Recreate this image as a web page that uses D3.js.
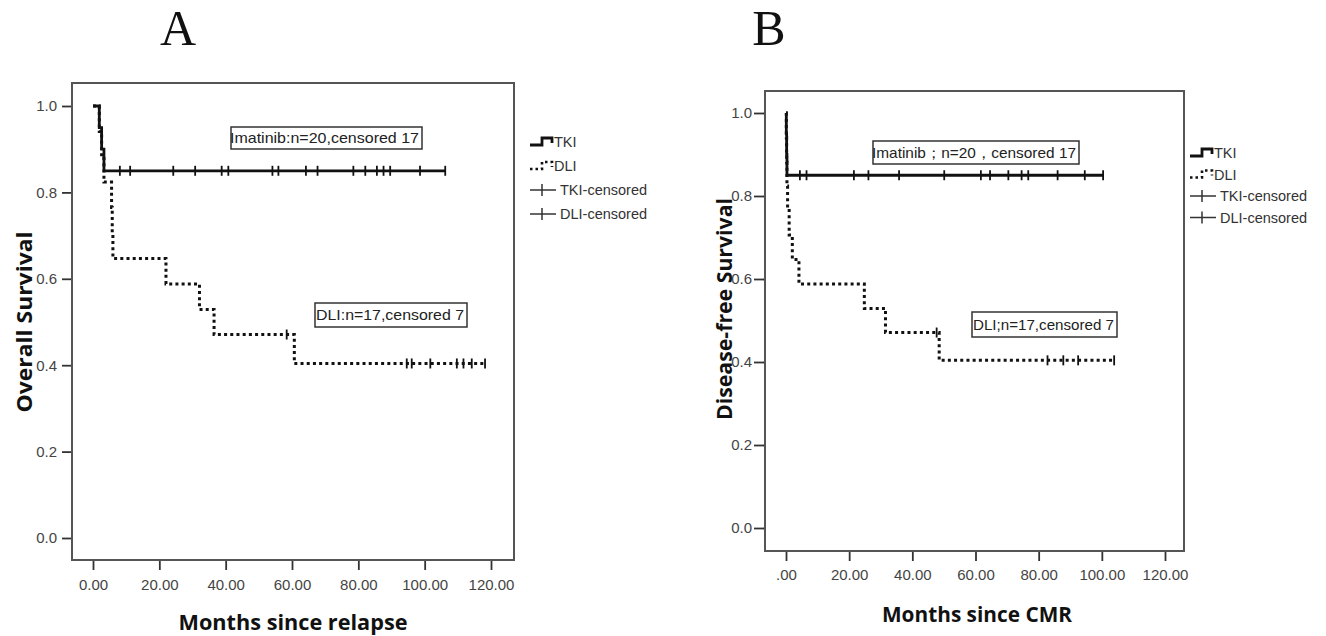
<!DOCTYPE html>
<html lang="en">
<head>
<meta charset="utf-8" />
<title>Kaplan-Meier survival, TKI vs DLI</title>
<script src="https://cdn.jsdelivr.net/npm/d3@7"></script>
<style>
  body { margin: 0; background: #fff; }
  text { font-family: "Liberation Sans", Arial, sans-serif; }
</style>
</head>
<body>
<svg width="1326" height="636"></svg>
<script>
// ---- data ----
// panel A: overall survival, months since relapse
var tkiA_time = [0, 1.9, 2.6, 3.3];
var tkiA_surv = [1.0, 0.95, 0.90, 0.85];
var tkiA_end = 106.2;
var tkiA_censor = [8.1, 11.2, 24.2, 30.8, 38.8, 40.8, 54.1, 55.9, 64.2, 67.7, 78.5, 82.1, 85.6, 87.6, 89.6, 98.6, 106.2];

var dliA_time = [0, 1.9, 2.6, 3.3, 5.6, 5.8, 6.0, 22.0, 32.1, 36.5, 60.7];
var dliA_surv = [1.0, 0.941, 0.882, 0.824, 0.765, 0.706, 0.647, 0.588, 0.529, 0.471, 0.404];
var dliA_end = 118.2;
var dliA_censor = [58.4, 94.6, 96.1, 101.7, 109.7, 111.7, 114.2, 118.2];

// panel B: disease-free survival, months since CMR
var tkiB_time = [0, 0.1, 0.2, 0.3];
var tkiB_surv = [1.0, 0.95, 0.90, 0.85];
var tkiB_end = 100.4;
var tkiB_censor = [4.4, 6.5, 21.5, 26.1, 35.8, 50.1, 61.7, 64.6, 70.4, 74.6, 76.7, 86.0, 94.6, 100.4];

var dliB_time = [0, 0.1, 0.2, 0.3, 0.5, 1.0, 2.0, 4.1, 24.8, 31.5, 48.5];
var dliB_surv = [1.0, 0.941, 0.882, 0.824, 0.765, 0.706, 0.647, 0.588, 0.529, 0.471, 0.404];
var dliB_end = 103.9;
var dliB_censor = [47.7, 82.8, 87.8, 92.5, 103.9];

var xTicks = [0, 20, 40, 60, 80, 100, 120];
var yTicks = [0, 0.2, 0.4, 0.6, 0.8, 1.0];
var legendLabels = ["TKI", "DLI", "TKI-censored", "DLI-censored"];

var svg = d3.select("svg");
svg.append("rect").attr("width", 1326).attr("height", 636).attr("fill", "#fff");

function stepPoints(times, surv, end) {
    var pts = times.map(function (t, i) { return [t, surv[i]]; });
    pts.push([end, surv[surv.length - 1]]);
    return pts;
}

function survAt(times, surv, t) {
    var i = d3.bisectRight(times, t) - 1;
    return surv[Math.max(0, i)];
}

function drawPanel(p) {
    var x = d3.scaleLinear().domain([0, 120]).range(p.xRange);
    var y = d3.scaleLinear().domain([0, 1]).range(p.yRange);
    var g = svg.append("g");

    // plot frame
    g.append("rect")
        .attr("x", p.frame[0]).attr("y", p.frame[1])
        .attr("width", p.frame[2] - p.frame[0]).attr("height", p.frame[3] - p.frame[1])
        .attr("fill", "none").attr("stroke", "#555").attr("stroke-width", 2);

    var xAxis = g.append("g")
        .attr("transform", "translate(0," + (p.frame[3] + 1) + ")")
        .call(d3.axisBottom(x).tickValues(xTicks).tickSize(9).tickSizeOuter(0).tickPadding(p.xPad)
            .tickFormat(p.xFormat));
    var yAxis = g.append("g")
        .attr("transform", "translate(" + (p.frame[0] - 1) + ",0)")
        .call(d3.axisLeft(y).tickValues(yTicks).tickSize(p.yTick).tickSizeOuter(0).tickPadding(p.yPad)
            .tickFormat(d3.format(".1f")));
    [xAxis, yAxis].forEach(function (a) {
        a.select(".domain").remove();
        a.selectAll(".tick line").attr("stroke", "#333").attr("stroke-width", 1.8);
        a.selectAll(".tick text").attr("fill", "#444").style("font-size", "15px");
    });

    var line = d3.line()
        .x(function (d) { return x(d[0]); })
        .y(function (d) { return y(d[1]); })
        .curve(d3.curveStepAfter);

    // DLI (dotted) first, TKI on top
    g.append("path")
        .attr("d", line(stepPoints(p.dli.time, p.dli.surv, p.dli.end)))
        .attr("fill", "none").attr("stroke", "#111").attr("stroke-width", 3)
        .attr("stroke-dasharray", "3,3.2");
    g.append("path")
        .attr("d", line(stepPoints(p.tki.time, p.tki.surv, p.tki.end)))
        .attr("fill", "none").attr("stroke", "#111").attr("stroke-width", 2.8);

    [p.tki, p.dli].forEach(function (s) {
        g.selectAll(null).data(s.censor).enter().append("line")
            .attr("x1", function (d) { return x(d); })
            .attr("x2", function (d) { return x(d); })
            .attr("y1", function (d) { return y(survAt(s.time, s.surv, d)) - 5; })
            .attr("y2", function (d) { return y(survAt(s.time, s.surv, d)) + 5; })
            .attr("stroke", "#111").attr("stroke-width", 1.8);
    });

    // annotation boxes
    p.notes.forEach(function (n) {
        g.append("rect")
            .attr("x", n.box[0]).attr("y", n.box[1])
            .attr("width", n.box[2] - n.box[0]).attr("height", n.box[3] - n.box[1])
            .attr("fill", "#fff").attr("stroke", "#333").attr("stroke-width", 1.5);
        g.append("text")
            .attr("x", n.box[0] + n.inset).attr("y", (n.box[1] + n.box[3]) / 2 + 5)
            .attr("textLength", n.box[2] - n.box[0] - n.inset - 3)
            .attr("lengthAdjust", "spacingAndGlyphs")
            .style("font-size", "15px").attr("fill", "#222")
            .text(n.text);
    });

    // legend
    var lg = g.append("g").attr("transform", "translate(" + p.legend[0] + "," + p.legend[1] + ")");
    legendLabels.forEach(function (lab, i) {
        var yy = i * p.legendStep;
        if (i < 2) {
            lg.append("path")
                .attr("d", "M0," + (yy + 3) + "H12V" + (yy - 4) + "H22V" + (yy + 1))
                .attr("fill", "none").attr("stroke", "#111").attr("stroke-width", i === 0 ? 2.8 : 2.6)
                .attr("stroke-dasharray", i === 0 ? null : "2.5,3");
        } else {
            lg.append("line").attr("x1", 0).attr("x2", 26).attr("y1", yy).attr("y2", yy)
                .attr("stroke", "#333").attr("stroke-width", 1.5);
            lg.append("line").attr("x1", 12).attr("x2", 12).attr("y1", yy - 6).attr("y2", yy + 6)
                .attr("stroke", "#333").attr("stroke-width", 1.5);
        }
        lg.append("text").attr("x", i < 2 ? 24 : 30).attr("y", yy + 5)
            .style("font-size", "14.5px").attr("fill", "#333").text(lab);
    });

    // axis titles
    svg.append("text")
        .attr("transform", "translate(" + p.yTitle[0] + "," + p.yTitle[1] + ") rotate(-90)")
        .attr("text-anchor", "middle")
        .attr("textLength", p.yTitle[2]).attr("lengthAdjust", "spacingAndGlyphs")
        .style("font-family", "'Open Sans', sans-serif").style("font-weight", "bold").style("font-size", "21px")
        .attr("fill", "#111").text(p.yLabel);
    svg.append("text")
        .attr("x", p.xTitle[0]).attr("y", p.xTitle[1])
        .attr("text-anchor", "middle")
        .attr("textLength", p.xTitle[2]).attr("lengthAdjust", "spacingAndGlyphs")
        .style("font-family", "'Open Sans', sans-serif").style("font-weight", "bold").style("font-size", "21px")
        .attr("fill", "#111").text(p.xLabel);

    // panel letter
    svg.append("text")
        .attr("x", p.letter[0]).attr("y", p.letter[1])
        .attr("text-anchor", "middle")
        .style("font-family", "'Liberation Serif', serif").style("font-size", "50px")
        .attr("fill", "#111").text(p.name);
}

drawPanel({
    name: "A",
    frame: [72, 83, 514, 560],
    xRange: [93, 491], yRange: [538, 106],
    xPad: 9, yTick: 9, yPad: 5,
    xFormat: d3.format(".2f"),
    tki: { time: tkiA_time, surv: tkiA_surv, end: tkiA_end, censor: tkiA_censor },
    dli: { time: dliA_time, surv: dliA_surv, end: dliA_end, censor: dliA_censor },
    notes: [
        { box: [231, 127, 422, 149], inset: -1, text: "Imatinib:n=20,censored 17" },
        { box: [315, 303, 467, 327], inset: 1, text: "DLI:n=17,censored 7" }
    ],
    legend: [530, 142], legendStep: 24,
    yLabel: "Overall Survival", yTitle: [32, 322, 181],
    xLabel: "Months since relapse", xTitle: [293, 630, 229],
    letter: [178, 45]
});

drawPanel({
    name: "B",
    frame: [765, 91, 1184, 551],
    xRange: [786, 1165], yRange: [528, 113],
    xPad: 8, yTick: 10, yPad: 2,
    xFormat: function (d) { return d === 0 ? ".00" : d3.format(".2f")(d); },
    tki: { time: tkiB_time, surv: tkiB_surv, end: tkiB_end, censor: tkiB_censor },
    dli: { time: dliB_time, surv: dliB_surv, end: dliB_end, censor: dliB_censor },
    notes: [
        { box: [873, 141, 1079, 164], inset: -1, text: "Imatinib；n=20，censored 17" },
        { box: [972, 312, 1117, 337], inset: 1, text: "DLI;n=17,censored 7" }
    ],
    legend: [1190, 153], legendStep: 21.5,
    yLabel: "Disease-free Survival", yTitle: [732, 309, 222],
    xLabel: "Months since CMR", xTitle: [977, 622, 190],
    letter: [769, 45]
});
</script>
</body>
</html>
